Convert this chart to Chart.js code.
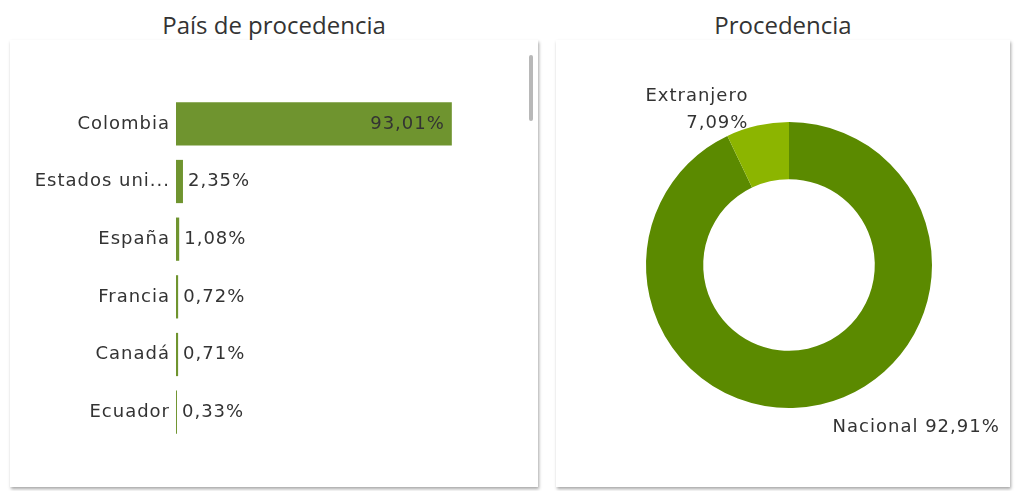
<!DOCTYPE html>
<html>
<head>
<meta charset="utf-8">
<script src="https://cdn.jsdelivr.net/npm/chart.js@4.4.1/dist/chart.umd.min.js"></script>
<style>
  body { margin: 0; background: #fff; width: 1015px; height: 491px; position: relative; overflow: hidden; font-family: "Open Sans", "Noto Sans", sans-serif; }
  .title { position: absolute; top: 8px; font-size: 24px; color: #333; text-align: center; }
  .card { position: absolute; top: 40px; height: 447px; background: #fff; box-shadow: 1px 2px 3px rgba(0,0,0,0.35); }
  .scroll { position: absolute; left: 519px; top: 15px; width: 4px; height: 66px; background: #b8b8b8; border-radius: 2px; }
</style>
</head>
<body>
<div class="title" style="left:10px;width:528px;">País de procedencia</div>
<div class="title" style="left:556px;width:454px;">Procedencia</div>
<div class="card" style="left:10px;width:528px;">
  <canvas id="barChart" width="528" height="447"></canvas>
  <div class="scroll"></div>
</div>
<div class="card" style="left:556px;width:454px;">
  <canvas id="donutChart" width="454" height="447"></canvas>
</div>
<script>
// país de procedencia (%)
const paises = ['Colombia', 'Estados uni...', 'España', 'Francia', 'Canadá', 'Ecuador'];
const paisesPct = [93.01, 2.35, 1.08, 0.72, 0.71, 0.33];

// procedencia (%)
const procedencia = ['Nacional', 'Extranjero'];
const procedenciaPct = [92.91, 7.09];

const labelFont = '18px "DejaVu Sans", sans-serif';
const fmt = (v) => v.toFixed(2).replace('.', ',') + '%';

// letra un poco más ancha (parecido a la fuente original)
const spacing = {
    id: 'spacing',
    beforeDraw(chart) {
        chart.ctx.letterSpacing = '1px';
    }
};

// etiquetas de las barras
const barLabels = {
    id: 'barLabels',
    afterDatasetsDraw(chart) {
        const ctx = chart.ctx;
        const meta = chart.getDatasetMeta(0);
        ctx.save();
        ctx.font = labelFont;
        ctx.letterSpacing = '1px';
        ctx.fillStyle = '#333';
        ctx.textBaseline = 'middle';
        meta.data.forEach((bar, i) => {
            let v = paisesPct[i];
            if (bar.x - bar.base > 80) {
                ctx.textAlign = 'right';
                ctx.fillText(fmt(v), bar.x - 7, bar.y);
            } else {
                ctx.textAlign = 'left';
                ctx.fillText(fmt(v), bar.x + 5, bar.y);
            }
        });
        ctx.restore();
    }
};

new Chart(document.getElementById('barChart'), {
    type: 'bar',
    plugins: [spacing, barLabels],
    data: {
        labels: paises,
        datasets: [{
            data: paisesPct,
            backgroundColor: '#6f942f',
            categoryPercentage: 0.75,
            barPercentage: 1
        }]
    },
    options: {
        indexAxis: 'y',
        responsive: false,
        animation: false,
        layout: { padding: { top: 55, bottom: 46, right: 18, left: 0 } },
        scales: {
            x: { display: false, min: 0, max: 116 },
            y: {
                grid: { display: false, drawTicks: false },
                border: { display: false },
                ticks: { color: '#333', font: { family: '"DejaVu Sans", sans-serif', size: 18 }, padding: 6 },
                afterFit: (scale) => { scale.width = 166; }
            }
        },
        plugins: { legend: { display: false }, tooltip: { enabled: false } }
    }
});

// etiquetas del anillo
const donutLabels = {
    id: 'donutLabels',
    afterDatasetsDraw(chart) {
        const ctx = chart.ctx;
        const meta = chart.getDatasetMeta(0);
        ctx.save();
        ctx.font = labelFont;
        ctx.letterSpacing = '1px';
        ctx.fillStyle = '#333';
        ctx.textBaseline = 'middle';
        meta.data.forEach((arc, i) => {
            let mid = (arc.startAngle + arc.endAngle) / 2;
            let px = arc.x + Math.cos(mid) * arc.outerRadius;
            let py = arc.y + Math.sin(mid) * arc.outerRadius;
            if (i == 1) {
                ctx.textAlign = 'right';
                ctx.fillText(procedencia[i], px - 9, py - 29);
                ctx.fillText(fmt(procedenciaPct[i]), px - 9, py - 2);
            } else {
                ctx.textAlign = 'left';
                ctx.fillText(procedencia[i] + ' ' + fmt(procedenciaPct[i]), px + 12, py + 23);
            }
        });
        ctx.restore();
    }
};

new Chart(document.getElementById('donutChart'), {
    type: 'doughnut',
    plugins: [donutLabels],
    data: {
        labels: procedencia,
        datasets: [{
            data: procedenciaPct,
            backgroundColor: ['#5b8a00', '#8cb500'],
            borderWidth: 0
        }]
    },
    options: {
        responsive: false,
        animation: false,
        cutout: '60%',
        layout: { padding: { left: 90, right: 78, top: 82, bottom: 79 } },
        plugins: { legend: { display: false }, tooltip: { enabled: false } }
    }
});
</script>
</body>
</html>
